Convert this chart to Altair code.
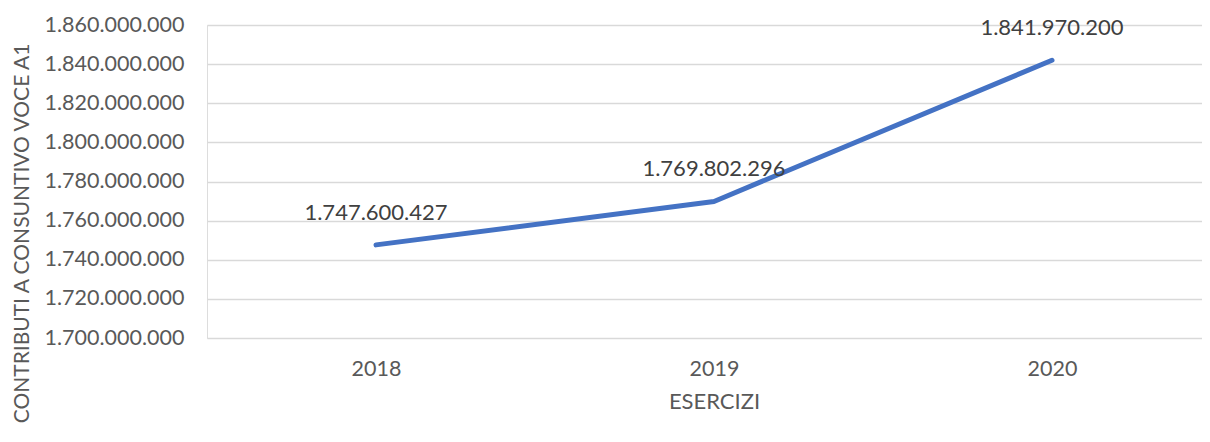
import altair as alt
import pandas as pd

years = ["2018", "2019", "2020"]
values = [1747600427, 1769802296, 1841970200]
labels = ["1.747.600.427", "1.769.802.296", "1.841.970.200"]

df = pd.DataFrame({"anno": years, "valore": values, "etichetta": labels})

FONT = "Lato"

base = alt.Chart(df).encode(
    x=alt.X(
        "anno:O",
        sort=years,
        scale=alt.Scale(type="point", padding=0.4719, align=0.5298),
        axis=alt.Axis(
            title="ESERCIZI",
            labelAngle=0,
            labelFontSize=21.5,
            labelColor="#595959",
            labelFont=FONT,
            labelPadding=20,
            ticks=False,
            domain=False,
            grid=False,
            titleFontSize=22,
            titleFont=FONT,
            titleFontWeight="normal",
            titleColor="#595959",
            titlePadding=12,
            titleX=507,
            titleAnchor="middle",
        ),
    ),
    y=alt.Y(
        "valore:Q",
        scale=alt.Scale(domain=[1700000000, 1860000000], nice=False, zero=False),
        axis=alt.Axis(
            title="CONTRIBUTI A CONSUNTIVO VOCE A1",
            values=[1700000000 + 20000000 * i for i in range(9)],
            labelExpr="replace(format(datum.value, ','), regexp(',', 'g'), '.')",
            labelFontSize=21.5,
            labelColor="#595959",
            labelFont=FONT,
            labelPadding=23,
            ticks=False,
            domain=False,
            gridColor="#D9D9D9",
            gridWidth=1.5,
            titleFontSize=21,
            titleFont=FONT,
            titleFontWeight="normal",
            titleColor="#595959",
            titleAngle=270,
            titleAlign="center",
            titleBaseline="middle",
            titleX=-185,
            titleY=208,
        ),
    ),
)

line = base.mark_line(color="#4472C4", strokeWidth=5, strokeCap="round", strokeJoin="round")
text = base.mark_text(dy=-32, fontSize=22, font=FONT, color="#404040").encode(text="etichetta:N")

chart = (
    (line + text)
    .properties(
        width=995,
        height=313,
        autosize=alt.AutoSizeParams(type="none"),
        padding={"left": 199, "top": 17, "right": 0, "bottom": 96},
    )
    .configure_view(stroke=None)
    .configure(background="white")
)

chart.save("out.html", embed_options={"renderer": "svg", "actions": False})
